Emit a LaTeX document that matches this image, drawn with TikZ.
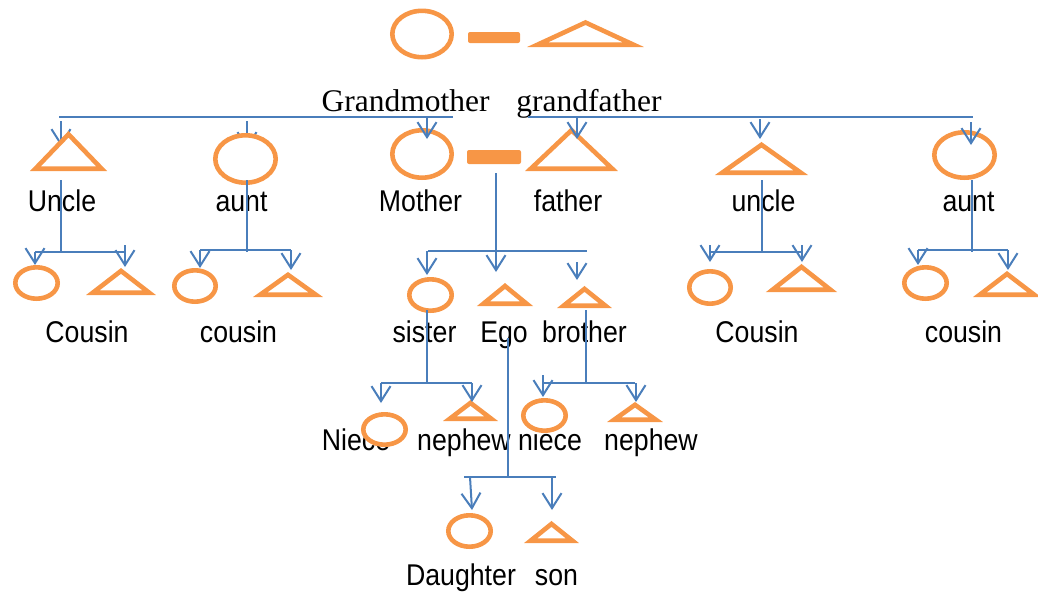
\documentclass[tikz,border=0pt]{standalone}
\usepackage{fontspec}
\setmainfont{Liberation Sans}[FakeStretch=0.89]
\newfontfamily\kinserif{Liberation Serif}
\usetikzlibrary{arrows.meta}
\definecolor{kinorange}{HTML}{F79646}
\definecolor{kinblue}{HTML}{4A7EBB}

% female: ellipse (centre x, centre y, x radius, y radius)
\newcommand\kinell[4]{\path[female] (#1,#2) ellipse [x radius=#3pt, y radius=#4pt];}
% male: triangle (centre x, apex y, half width, base y)
\newcommand\kintri[4]{\path[male] (#1,#2) -- ({#1-#3},#4) -- ({#1+#3},#4) -- cycle;}
% connectors between named end points
\newcommand\kinline[5]{\coordinate (#1-s) at (#2,#3); \coordinate (#1-e) at (#4,#5); \draw[link] (#1-s) -- (#1-e);}
\newcommand\kindrop[5]{\coordinate (#1-s) at (#2,#3); \coordinate (#1-e) at (#4,#5); \draw[descent] (#1-s) -- (#1-e);}

\begin{document}
\begin{tikzpicture}[x=1pt,y=-1pt,
  lbl/.style={anchor=base, inner sep=0pt, font=\fontsize{30}{36}\selectfont},
  toplbl/.style={anchor=base, inner sep=0pt, font=\kinserif\fontsize{31.5}{38}\selectfont},
  link/.style={draw=kinblue, line width=2pt},
  descent/.style={link, -{Straight Barb[length=15pt,width=19pt]}},
  female/.style={draw=kinorange, line width=4.6pt, fill=white},
  male/.style={draw=kinorange, line width=4.6pt, fill=white, line join=miter},
  union/.style={fill=kinorange, rounded corners=2pt}]
\useasboundingbox (0,0) rectangle (1038,595);

% ---- labels
\node[toplbl] (tGM) at (405.5,111) {Grandmother};
\node[toplbl] (tGF) at (589,111) {grandfather};
\node[lbl] (tUncle) at (62,211) {Uncle};
\node[lbl] (tAuntL) at (241.5,211) {aunt};
\node[lbl] (tMother) at (420.5,211) {Mother};
\node[lbl] (tFather) at (568,211) {father};
\node[lbl] (tUncleR) at (763.5,211) {uncle};
\node[lbl] (tAuntR) at (968.5,211) {aunt};
\node[lbl] (tC1) at (87,342) {Cousin};
\node[lbl] (tC2) at (238.5,342) {cousin};
\node[lbl] (tSister) at (424.5,342) {sister};
\node[lbl] (tEgo) at (504,342) {Ego};
\node[lbl] (tBrother) at (584.5,342) {brother};
\node[lbl] (tC3) at (757,342) {Cousin};
\node[lbl] (tC4) at (963.5,342) {cousin};
\node[lbl] (tNiece1) at (356,450) {Niece};
\node[lbl] (tNephew1) at (464,450) {nephew};
\node[lbl] (tNiece2) at (550,450) {niece};
\node[lbl] (tNephew2) at (651,450) {nephew};
\node[lbl] (tDaughter) at (461,585) {Daughter};
\node[lbl] (tSon) at (556.5,585) {son};

% ---- descent lines hidden under the first-generation symbols
\kindrop{dUncle}{61}{121}{61}{146}
\kindrop{dAuntL}{247}{121}{247}{149}

% ---- symbols
\kinell{422}{34}{29.7}{23.2}
\path[union] (468,32) rectangle (520,43);
\kintri{585.5}{22.5}{48}{44.7}

\kintri{68.5}{134.3}{33.1}{168.7}
\kinell{245.5}{159}{30.2}{23.7}
\kinell{422}{154}{29.7}{23.7}
\path[union] (467,150) rectangle (521,164);
\kintri{571.5}{130.2}{40.7}{168.7}
\kintri{761.5}{144.8}{39.3}{172.7}
\kinell{964.5}{155}{30.2}{22.7}

\kinell{36.5}{283}{21.2}{15.7}
\kintri{121}{270.9}{28.2}{292.7}
\kinell{195}{286}{20.7}{15.7}
\kintri{288}{274.8}{27.8}{294.7}
\kinell{430.5}{295}{21.2}{15.7}
\kintri{505}{286}{21.6}{303.7}
\kintri{584.5}{288.9}{20.9}{305.7}
\kinell{710}{287.5}{20.7}{16.2}
\kintri{801.5}{266.9}{28.9}{289.7}
\kinell{925.5}{283}{21.2}{15.7}
\kintri{1007}{273.9}{27.2}{294.7}

\kinell{384.5}{429.5}{21.2}{15.2}
\kintri{470.5}{402.9}{20.7}{418.7}
\kinell{544.5}{415.5}{21.2}{15.2}
\kintri{635}{404.8}{20.8}{419.7}

\kinell{469.5}{531}{21.2}{15.7}
\kintri{551.5}{523.9}{20.9}{540.7}

% ---- grandparents' children
\kinline{gpL}{59}{117}{453}{117}
\kinline{gpR}{528}{117}{973}{117}
\kindrop{dMother}{427}{117}{427}{139}
\kindrop{dFather}{577}{117}{577}{139}
\kindrop{dUncleR}{760}{119}{760}{139}
\kindrop{dAuntR}{971}{122}{971}{145}

% ---- Uncle's children
\kinline{sUncle}{61}{180}{61}{252}
\kinline{bUncle}{35}{252}{125}{252}
\kindrop{dC1a}{35}{252}{35}{265}
\kindrop{dC1b}{125}{245}{125}{267}

% ---- aunt's children
\kinline{sAuntL}{247}{180}{247}{252}
\kinline{bAuntL}{200}{250}{291}{250}
\kindrop{dC2a}{200}{250}{200}{268}
\kindrop{dC2b}{291}{250}{291}{270}

% ---- Mother and father's children
\kinline{bParents}{428}{251}{587}{251}
\kindrop{dEgo}{496}{173}{496}{272}
\kindrop{dSister}{427}{251}{427}{275}
\kindrop{dBrother}{577}{262}{577}{280}

% ---- uncle's children
\kinline{sUncleR}{762}{180}{762}{252}
\kinline{bUncleR}{710}{252}{802}{252}
\kindrop{dC3a}{710}{245}{710}{262}
\kindrop{dC3b}{802}{245}{802}{262}

% ---- aunt's children
\kinline{sAuntR}{972}{180}{972}{252}
\kinline{bAuntR}{918}{250}{1008}{250}
\kindrop{dC4a}{918}{250}{918}{265}
\kindrop{dC4b}{1008}{250}{1008}{270}

% ---- sister's children
\kinline{sSister}{427}{310}{427}{383}
\kinline{bSister}{381}{383}{472}{383}
\kindrop{dNiece1}{381}{383}{381}{403}
\kindrop{dNephew1}{472}{383}{472}{402}

% ---- brother's children
\kinline{sBrother}{586}{310}{586}{383}
\kinline{bBrother}{543}{383}{635}{383}
\kindrop{dNiece2}{543}{375}{543}{397}
\kindrop{dNephew2}{636}{383}{636}{402}

% ---- Ego's children
\kinline{sEgo}{508}{338}{508}{477}
\kinline{bEgo}{464}{477}{556}{477}
\kindrop{dDaughter}{470}{477}{472}{510}
\kindrop{dSon}{552}{477}{552}{510}
\end{tikzpicture}
\end{document}
